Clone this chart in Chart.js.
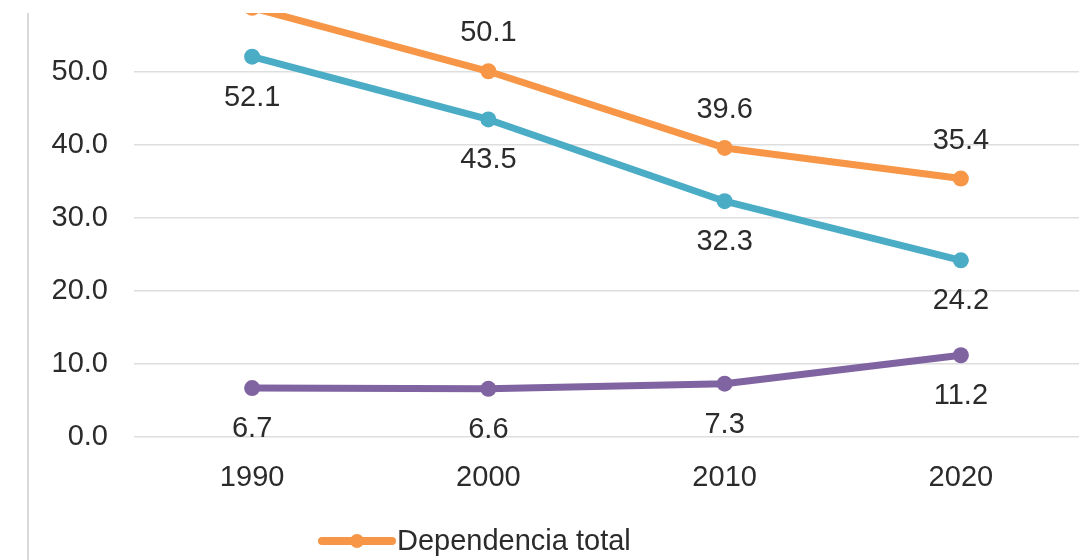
<!DOCTYPE html>
<html>
<head>
<meta charset="utf-8">
<script src="https://cdn.jsdelivr.net/npm/chart.js@4.4.1/dist/chart.umd.min.js"></script>
<style>
  html, body { margin: 0; padding: 0; background: #ffffff; }
  #wrap { position: relative; width: 1079px; height: 560px; overflow: hidden; }
  canvas { display: block; }
</style>
</head>
<body>
<div id="wrap"><canvas id="chart" width="1087" height="560"></canvas></div>
<script>
// Dependency ratios by census year
const years = ['1990', '2000', '2010', '2020'];
const dependenciaTotal = [58.8, 50.1, 39.6, 35.4];
const dependenciaJuvenil = [52.1, 43.5, 32.3, 24.2];
const dependenciaVejez = [6.7, 6.6, 7.3, 11.2];
const seriesNames = ['Dependencia total', 'Dependencia juvenil', 'Dependencia vejez'];
const yTickValues = [0, 10, 20, 30, 40, 50];

const FONT = '"Liberation Sans", Arial, sans-serif';
const FONT_SIZE = 29;
const TEXT_COLOR = '#2b2b2b';
const GRID_COLOR = '#dedede';

// Value labels: above the total line, below the other two
const valueLabels = {
  id: 'valueLabels',
  afterDatasetsDraw(chart) {
    const ctx = chart.ctx;
    ctx.save();
    ctx.font = FONT_SIZE + 'px ' + FONT;
    ctx.fillStyle = TEXT_COLOR;
    ctx.textAlign = 'center';
    ctx.textBaseline = 'middle';
    chart.data.datasets.forEach((ds, di) => {
      const meta = chart.getDatasetMeta(di);
      const dy = di === 0 ? -38 : 41;
      meta.data.forEach((pt, i) => {
        ctx.fillText(ds.data[i].toFixed(1), pt.x, pt.y + dy);
      });
    });
    ctx.restore();
  }
};

// Frame edge on the left and a line-style legend under the axis
const frameAndLegend = {
  id: 'frameAndLegend',
  afterDraw(chart) {
    const ctx = chart.ctx;
    ctx.save();
    ctx.strokeStyle = '#d9d9d9';
    ctx.lineWidth = 2;
    ctx.beginPath();
    ctx.moveTo(28, 13);
    ctx.lineTo(28, chart.height);
    ctx.stroke();

    ctx.font = FONT_SIZE + 'px ' + FONT;
    ctx.textBaseline = 'middle';
    ctx.textAlign = 'left';
    chart.data.datasets.forEach((ds, di) => {
      const y = 541 + di * 40;
      const x0 = 322, x1 = 392;
      ctx.strokeStyle = ds.borderColor;
      ctx.lineWidth = 8;
      ctx.lineCap = 'round';
      ctx.beginPath();
      ctx.moveTo(x0, y);
      ctx.lineTo(x1, y);
      ctx.stroke();
      ctx.fillStyle = ds.borderColor;
      ctx.beginPath();
      ctx.arc((x0 + x1) / 2, y, 7, 0, Math.PI * 2);
      ctx.fill();
      ctx.fillStyle = TEXT_COLOR;
      ctx.fillText(ds.label, 397, y + 1);
    });
    ctx.restore();
  }
};

function lineSeries(label, data, color) {
  return {
    label: label,
    data: data,
    borderColor: color,
    backgroundColor: color,
    borderWidth: 7,
    borderCapStyle: 'round',
    borderJoinStyle: 'round',
    pointRadius: 8,
    pointHoverRadius: 8,
    pointBorderWidth: 0,
    tension: 0,
    clip: 0
  };
}

new Chart(document.getElementById('chart'), {
  type: 'line',
  data: {
    labels: years,
    datasets: [
      lineSeries(seriesNames[0], dependenciaTotal, '#f79646'),
      lineSeries(seriesNames[1], dependenciaJuvenil, '#4bacc6'),
      lineSeries(seriesNames[2], dependenciaVejez, '#8064a2')
    ]
  },
  options: {
    responsive: false,
    animation: false,
    events: [],
    layout: { padding: { top: 13, left: 0, right: 0, bottom: 0 } },
    plugins: {
      legend: { display: false },
      tooltip: { enabled: false }
    },
    scales: {
      x: {
        type: 'category',
        offset: true,
        grid: { display: false, drawTicks: false },
        border: { display: false },
        ticks: {
          color: TEXT_COLOR,
          font: { family: FONT, size: FONT_SIZE },
          padding: 24,
          maxRotation: 0
        },
        afterFit(scale) {
          scale.height = 123;
          scale.paddingLeft = 0;
          scale.paddingRight = 0;
        }
      },
      y: {
        min: 0,
        max: 58.08,
        grid: { color: GRID_COLOR, lineWidth: 1.5, drawTicks: false },
        border: { display: false },
        afterBuildTicks(scale) {
          scale.ticks = yTickValues.map(v => ({ value: v }));
        },
        ticks: {
          color: TEXT_COLOR,
          font: { family: FONT, size: FONT_SIZE },
          padding: 26,
          callback: v => Number(v).toFixed(1)
        },
        afterFit(scale) {
          scale.width = 134;
          scale.paddingTop = 0;
          scale.paddingBottom = 0;
        }
      }
    }
  },
  plugins: [valueLabels, frameAndLegend]
});
</script>
</body>
</html>
